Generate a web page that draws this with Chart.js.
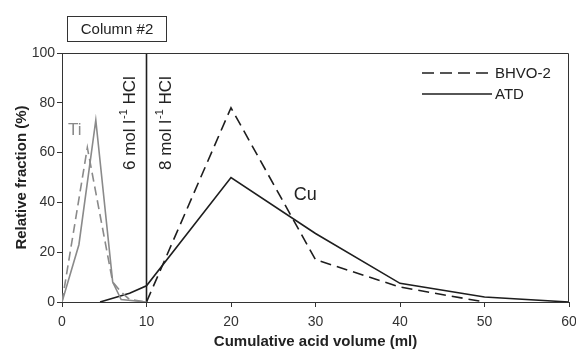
<!DOCTYPE html>
<html lang="en">
<head>
    <meta charset="UTF-8">
    <title>Column #2</title>
    <script src="https://cdn.jsdelivr.net/npm/chart.js"></script>
    <style>
        html, body { margin: 0; padding: 0; background: #fff; }
        #wrap { width: 576px; height: 351px; }
    </style>
</head>
<body>
    <div id="wrap"><canvas id="myChart" width="576" height="351"></canvas></div>

    <script>
        const tiBhvoX = [0, 3, 6, 7, 8, 10];
        const tiBhvoY = [0, 62, 8, 4, 1, 0];
        const tiAtdX = [0, 2, 4, 6, 7, 10];
        const tiAtdY = [0, 23, 73, 8, 1, 0];
        const cuBhvoX = [10, 20, 30, 40, 50];
        const cuBhvoY = [0, 78, 17, 6, 0];
        const cuAtdX = [4.5, 8, 10, 20, 30, 40, 50, 60];
        const cuAtdY = [0, 3.5, 6.5, 50, 27.5, 7.5, 2, 0];
        const acidSwitchX = 10;   // 6 -> 8 mol/l HCl

        const xTicks = [0, 10, 20, 30, 40, 50, 60];
        const yTicks = [0, 20, 40, 60, 80, 100];

        const FONT = "'Liberation Sans', Arial, sans-serif";
        const GRAY = '#8a8a8a';
        const DARK = '#1e1e1e';

        function pts(xs, ys){
            return xs.map((x,i)=>({x:x, y:ys[i]}));
        }

        // "6 mol l-1 HCl" 같은 위첨자 텍스트 (회전 상태에서 그림)
        function supText(ctx, pre, sup, post){
            let x = 0;
            ctx.font = '17px ' + FONT;
            ctx.fillText(pre, x, 0);
            x += ctx.measureText(pre).width + 1;
            ctx.font = '11px ' + FONT;
            ctx.fillText(sup, x, -6);
            x += ctx.measureText(sup).width;
            ctx.font = '17px ' + FONT;
            ctx.fillText(post, x, 0);
        }

        // 박스, 라벨, 범례
        const deco = {
            id: 'deco',
            afterDraw(chart){
                const ctx = chart.ctx;
                const a = chart.chartArea;
                const xs = chart.scales.x, ys = chart.scales.y;
                ctx.save();
                // 위, 오른쪽 테두리
                ctx.strokeStyle = '#333';
                ctx.lineWidth = 1;
                ctx.beginPath();
                ctx.moveTo(a.left, a.top + 0.5);
                ctx.lineTo(a.right - 0.5, a.top + 0.5);
                ctx.lineTo(a.right - 0.5, a.bottom);
                ctx.stroke();

                // Column #2 박스
                ctx.strokeRect(67.5, 16.5, 99, 25);
                ctx.fillStyle = '#222';
                ctx.font = '15px ' + FONT;
                ctx.textAlign = 'center';
                ctx.textBaseline = 'middle';
                ctx.fillText('Column #2', 117, 29.5);

                // Ti / Cu
                ctx.font = '17px ' + FONT;
                ctx.fillStyle = GRAY;
                ctx.fillText('Ti', xs.getPixelForValue(1.5), ys.getPixelForValue(69));
                ctx.fillStyle = '#222';
                ctx.font = '18px ' + FONT;
                ctx.fillText('Cu', xs.getPixelForValue(28.8), ys.getPixelForValue(43));

                // 세로 텍스트
                ctx.textAlign = 'left';
                const rot = [['6 mol l', 8.1], ['8 mol l', 12.35]];
                rot.forEach(([t, xv])=>{
                    ctx.save();
                    ctx.translate(xs.getPixelForValue(xv), ys.getPixelForValue(53));
                    ctx.rotate(-Math.PI/2);
                    supText(ctx, t, '-1', ' HCl');
                    ctx.restore();
                });

                // 범례
                const items = [chart.data.datasets[2], chart.data.datasets[3]];
                ctx.font = '15px ' + FONT;
                items.forEach((ds, i)=>{
                    const y = 73 + i*21;
                    ctx.strokeStyle = ds.borderColor;
                    ctx.lineWidth = ds.borderWidth;
                    ctx.setLineDash(ds.borderDash.length ? [12, 6] : []);
                    ctx.beginPath();
                    ctx.moveTo(422, y);
                    ctx.lineTo(492, y);
                    ctx.stroke();
                    ctx.setLineDash([]);
                    ctx.fillStyle = '#222';
                    ctx.fillText(ds.label, 495, y + 0.5);
                });
                ctx.restore();
            }
        };

        const data = {
            datasets: [
                { label: 'Ti BHVO-2', data: pts(tiBhvoX, tiBhvoY), borderColor: GRAY, borderWidth: 1.6, borderDash: [9, 5] },
                { label: 'Ti ATD', data: pts(tiAtdX, tiAtdY), borderColor: GRAY, borderWidth: 1.6, borderDash: [] },
                { label: 'BHVO-2', data: pts(cuBhvoX, cuBhvoY), borderColor: DARK, borderWidth: 1.6, borderDash: [11, 6] },
                { label: 'ATD', data: pts(cuAtdX, cuAtdY), borderColor: DARK, borderWidth: 1.6, borderDash: [] },
                { label: 'switch', data: pts([acidSwitchX, acidSwitchX], [0, 100]), borderColor: DARK, borderWidth: 1.6, borderDash: [] }
            ]
        };

        const options = {
            responsive: false,
            animation: false,
            layout: { padding: { top: 53, right: 7, left: 0, bottom: 0 } },
            elements: { point: { radius: 0 }, line: { tension: 0, fill: false } },
            plugins: { legend: { display: false }, tooltip: { enabled: false } },
            scales: {
                x: {
                    type: 'linear', min: 0, max: 60,
                    afterBuildTicks: (s)=>{ s.ticks = xTicks.map(v=>({value:v})); },
                    afterFit: (s)=>{ s.height = 49; s.paddingRight = 0; s.paddingLeft = 0; },
                    grid: { display: true, drawOnChartArea: false, drawTicks: true, tickLength: 5, color: '#333' },
                    border: { color: '#333', width: 1 },
                    ticks: { color: '#333', font: { family: FONT, size: 14 }, padding: 7, maxRotation: 0 },
                    title: { display: true, text: 'Cumulative acid volume (ml)', color: '#222',
                             font: { family: FONT, size: 15, weight: 'bold' }, padding: { top: 0, bottom: 0 } }
                },
                y: {
                    type: 'linear', min: 0, max: 100,
                    afterBuildTicks: (s)=>{ s.ticks = yTicks.map(v=>({value:v})); },
                    afterFit: (s)=>{ s.width = 62; s.paddingTop = 0; s.paddingBottom = 0; },
                    grid: { display: true, drawOnChartArea: false, drawTicks: true, tickLength: 5, color: '#333' },
                    border: { color: '#333', width: 1 },
                    ticks: { color: '#333', font: { family: FONT, size: 14 }, padding: 2 },
                    title: { display: true, text: 'Relative fraction (%)', color: '#222',
                             font: { family: FONT, size: 15, weight: 'bold' }, padding: { top: 13, bottom: 0 } }
                }
            }
        };

        new Chart(document.getElementById('myChart'), {
            type: 'line',
            data: data,
            options: options,
            plugins: [deco]
        });
    </script>
</body>
</html>
